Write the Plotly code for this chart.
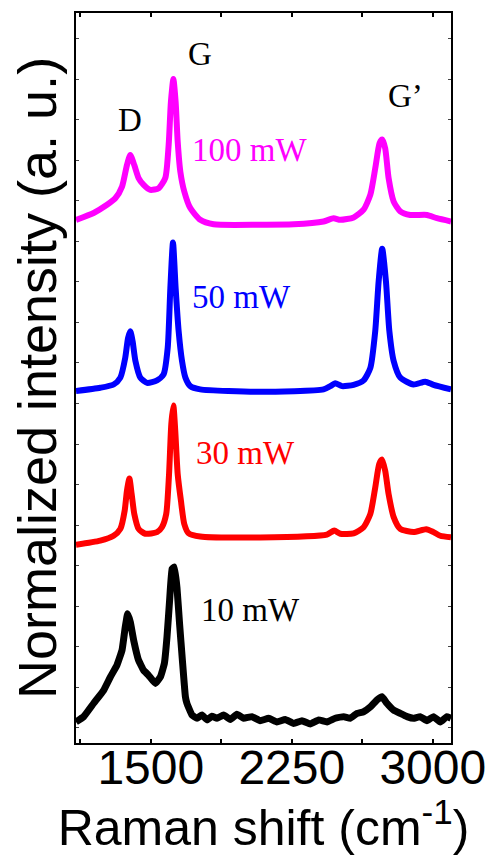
import plotly.graph_objects as go

# Raman shift (cm^-1) and stacked normalized intensity (a.u.)
x_100 = [1102, 1196, 1267, 1311, 1347, 1373, 1391, 1412, 1435, 1462, 1497, 1542, 1577, 1595, 1607, 1620,
         1632, 1643, 1657, 1678, 1710, 1763, 1834, 2082, 2260, 2419, 2472, 2508, 2579, 2632, 2668, 2694,
         2717, 2731, 2747, 2765, 2792, 2827, 2880, 2969, 3022, 3097]
y_100 = [12.90, 13.07, 13.27, 13.43, 13.72, 14.25, 14.50, 14.25, 13.93, 13.76, 13.64, 13.68, 13.93, 14.75,
         15.81, 16.37, 15.81, 14.83, 14.09, 13.60, 13.19, 12.90, 12.79, 12.78, 12.79, 12.86, 12.94, 12.90,
         12.96, 13.15, 13.52, 14.17, 14.79, 14.88, 14.66, 13.93, 13.35, 13.11, 13.02, 13.02, 12.94, 12.86]

x_50 = [1102, 1231, 1302, 1338, 1364, 1379, 1391, 1403, 1418, 1444, 1480, 1533, 1568, 1590, 1604, 1618,
        1632, 1648, 1666, 1684, 1710, 1763, 2082, 2419, 2455, 2481, 2517, 2579, 2632, 2668, 2694, 2712,
        2731, 2751, 2769, 2792, 2827, 2898, 2960, 3004, 3097]
y_50 = [8.68, 8.76, 8.84, 9.01, 9.50, 9.99, 10.15, 9.91, 9.42, 9.01, 8.88, 8.94, 9.09, 9.75, 11.22, 12.34,
        11.22, 10.16, 9.42, 9.01, 8.80, 8.72, 8.66, 8.72, 8.80, 8.87, 8.80, 8.83, 8.94, 9.25, 10.16, 11.38,
        12.19, 11.38, 10.16, 9.42, 9.01, 8.84, 8.91, 8.83, 8.72]

x_30 = [1102, 1231, 1302, 1338, 1361, 1373, 1386, 1398, 1412, 1435, 1471, 1533, 1559, 1582, 1597, 1609,
        1620, 1630, 1643, 1660, 1678, 1701, 1763, 2082, 2437, 2476, 2508, 2579, 2632, 2668, 2694, 2715,
        2730, 2747, 2765, 2792, 2827, 2898, 2965, 3004, 3040, 3097]
y_30 = [4.89, 4.99, 5.11, 5.28, 5.73, 6.22, 6.52, 6.14, 5.65, 5.28, 5.16, 5.20, 5.32, 5.65, 6.63, 7.86,
        8.32, 7.70, 6.63, 5.98, 5.40, 5.17, 5.09, 5.07, 5.14, 5.24, 5.16, 5.17, 5.32, 5.65, 6.30, 6.88,
        6.99, 6.71, 6.14, 5.57, 5.28, 5.20, 5.27, 5.20, 5.11, 5.07]

x_10 = [1102, 1143, 1196, 1249, 1285, 1320, 1347, 1364, 1377, 1391, 1409, 1435, 1462, 1488, 1524, 1551,
        1572, 1586, 1600, 1613, 1625, 1639, 1653, 1668, 1684, 1692, 1719, 1746, 1772, 1799, 1825, 1852,
        1887, 1923, 1958, 1994, 2038, 2082, 2127, 2171, 2215, 2260, 2304, 2348, 2393, 2437, 2481, 2526,
        2561, 2597, 2632, 2668, 2703, 2730, 2756, 2792, 2827, 2863, 2898, 2933, 2969, 3004, 3040, 3075, 3097]
y_10 = [0.52, 0.65, 0.98, 1.30, 1.63, 1.92, 2.29, 2.86, 3.19, 2.98, 2.53, 2.04, 1.79, 1.67, 1.47, 1.63,
        1.96, 2.61, 3.52, 4.29, 4.34, 3.84, 2.94, 2.04, 1.14, 0.98, 0.69, 0.61, 0.69, 0.57, 0.66, 0.61,
        0.69, 0.58, 0.71, 0.61, 0.65, 0.55, 0.61, 0.52, 0.58, 0.48, 0.55, 0.47, 0.57, 0.52, 0.61, 0.65,
        0.61, 0.73, 0.77, 0.89, 1.06, 1.14, 0.98, 0.81, 0.73, 0.65, 0.61, 0.65, 0.55, 0.65, 0.52, 0.65, 0.61]

series = [
    ("100 mW", x_100, y_100, "#FF00FF", 2024, 14.63),
    ("50 mW", x_50, y_50, "#0000FF", 1984, 10.99),
    ("30 mW", x_30, y_30, "#FF0000", 2003, 7.16),
    ("10 mW", x_10, y_10, "#000000", 2029, 3.29),
]
peak_labels = ["D", "G", "G\u2019"]
peak_x = [1391, 1763, 2854]
peak_y = [15.36, 16.98, 15.95]

fig = go.Figure()
serif = "Liberation Serif, Times New Roman, serif"
sans = "Liberation Sans, Arial, sans-serif"

for name, xs, ys, col, lx, ly in series:
    if col == "#000000":
        line = dict(color=col, width=7, shape="spline", smoothing=0.3)
    else:
        line = dict(color=col, width=6, shape="spline", smoothing=0.6)
    fig.add_trace(go.Scatter(x=xs, y=ys, mode="lines", name=name, line=line, showlegend=False))
    fig.add_annotation(x=lx, y=ly, text=name, showarrow=False,
                       font=dict(family=serif, size=33, color=col))

for t, px_, py_ in zip(peak_labels, peak_x, peak_y):
    fig.add_annotation(x=px_, y=py_, text=t, showarrow=False,
                       font=dict(family=serif, size=33, color="black"))

fig.update_layout(
    width=497, height=856,
    margin=dict(l=76, r=46, t=11, b=113),
    paper_bgcolor="white", plot_bgcolor="white",
    font=dict(family=sans, color="black"),
)
fig.update_xaxes(
    range=[1102, 3097], tick0=0, dtick=750, ticks="inside", ticklen=4, tickwidth=1.5,
    tickcolor="black", showline=True, linecolor="black", linewidth=2, mirror="allticks",
    showgrid=False, zeroline=False, ticklabelstandoff=-19,
    tickfont=dict(family=sans, size=48, color="black"),
    minor=dict(dtick=375, tick0=0, ticks="inside", ticklen=4, tickwidth=1.5, tickcolor="black", showgrid=False),
    title=dict(text="Raman shift (cm<sup>-1</sup>)", font=dict(family=sans, size=50, color="black"), standoff=2),
)
fig.update_yaxes(
    range=[0, 18.0], tick0=0.37, dtick=1, ticks="inside", ticklen=3, tickwidth=1,
    tickcolor="#444444", showticklabels=False, showline=True, linecolor="black", linewidth=2,
    mirror="allticks", showgrid=False, zeroline=False,
    title=dict(text="Normalized intensity (a. u.)", font=dict(family=sans, size=54, color="black"), standoff=0),
)

fig.write_html("out.html")
